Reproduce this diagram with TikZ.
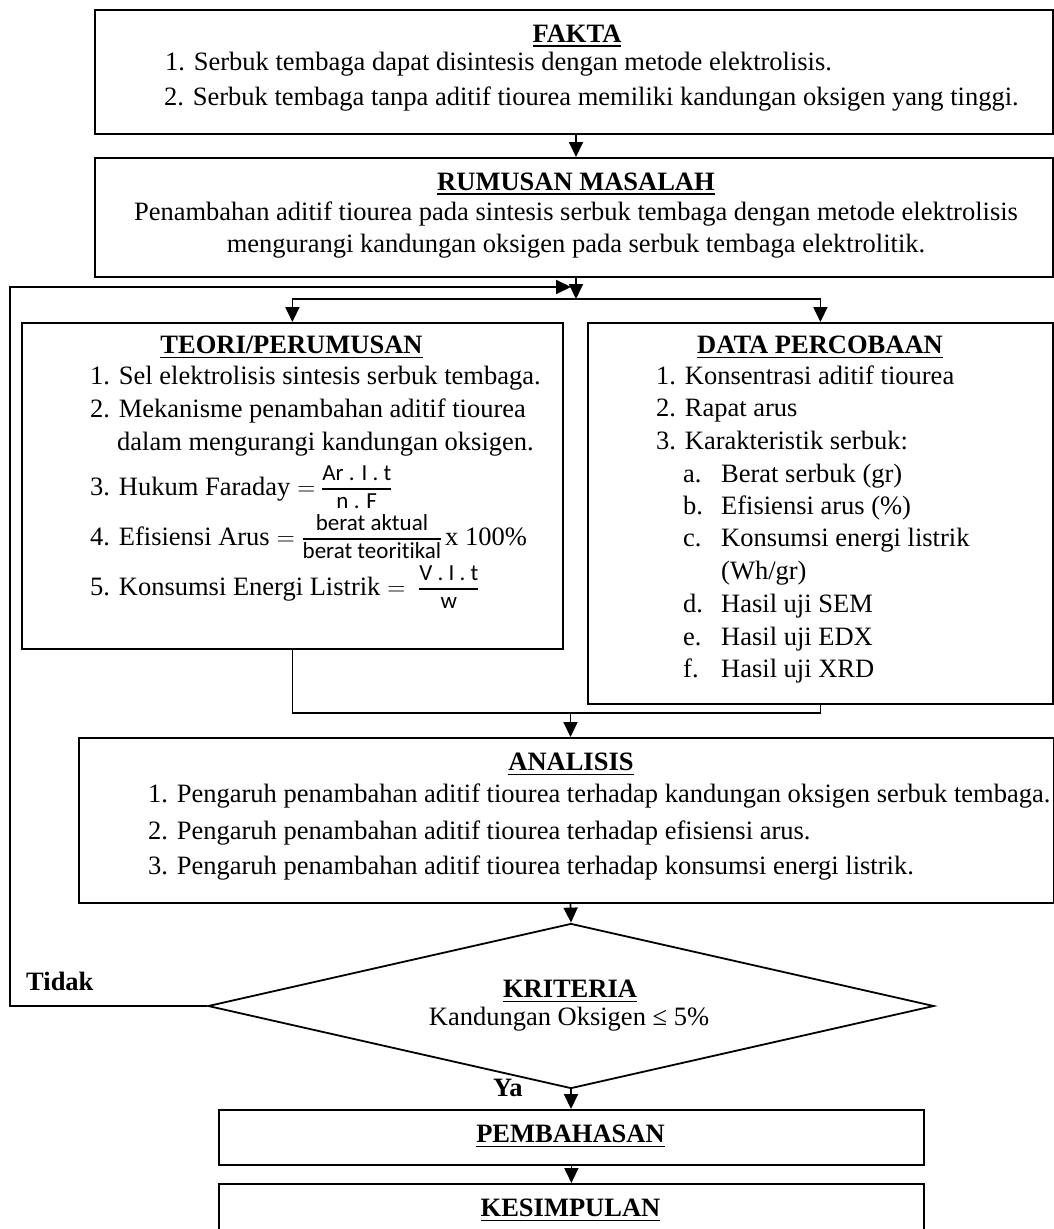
\documentclass[tikz,border=0pt]{standalone}
\usepackage{fontspec}
\setmainfont{Liberation Serif}
\newfontfamily\fracfont[Ligatures={NoCommon}]{Carlito}
\usetikzlibrary{arrows.meta,shapes.geometric}
\newdimen\fracw
\newcommand\myul[1]{\setbox0\hbox{#1}\rlap{\rule[-5pt]{\wd0}{1.8pt}}\box0}
\newcommand\fracx[2]{{%
 \setbox1\hbox{\fracfont\fontsize{23}{26}\selectfont #1}%
 \setbox2\hbox{\fracfont\fontsize{23}{26}\selectfont #2}%
 \fracw=\wd1 \ifdim\wd2>\fracw \fracw=\wd2 \fi
 \hbox to \fracw{%
   \rlap{\raisebox{5.8pt}{\rule{\fracw}{1.5pt}}}%
   \rlap{\hbox to \fracw{\hss\raisebox{14.5pt}{\box1}\hss}}%
   \hbox to \fracw{\hss\raisebox{-13pt}{\box2}\hss}}}}
\newcommand\sublab[1]{\makebox[38pt][l]{#1}}
\begin{document}
\begin{tikzpicture}[x=1pt,y=-1pt,
  box/.style={draw, line width=1.8pt, inner sep=0pt, anchor=north west},
  txt/.style={inner sep=0pt, font=\fontsize{26.5}{32}\selectfont},
  ttl/.style={inner sep=0pt, font=\bfseries\fontsize{26.5}{32}\selectfont},
  arr/.style={-{Triangle[length=15pt,width=14pt]}, line width=1.8pt},
  ln/.style={line width=1.8pt}]
\useasboundingbox (0,0) rectangle (1054,1229);

% boxes
\node[box, minimum width=958pt, minimum height=124pt] (fakta) at (94,9) {};
\node[box, minimum width=958pt, minimum height=119pt] (rumusan) at (94,157) {};
\node[box, minimum width=541pt, minimum height=326pt] (teori) at (21,322) {};
\node[box, minimum width=465pt, minimum height=381pt] (data) at (587,322) {};
\node[box, minimum width=975pt, minimum height=165pt] (analisis) at (78,737) {};
\node[draw, diamond, line width=1.8pt, inner sep=0pt, aspect=4.4,
      minimum width=726pt, minimum height=165pt] (krit) at (571,1006) {};
\node[box, minimum width=705pt, minimum height=55pt] (pemb) at (218,1109) {};
\node[box, minimum width=705pt, minimum height=80pt] (kes) at (218,1183) {};

% FAKTA
\node[ttl, anchor=mid] (tfakta) at (577,40) {\myul{FAKTA}};
\node[txt, anchor=mid west] (f1) at (165,68) {1. Serbuk tembaga dapat disintesis dengan metode elektrolisis.};
\node[txt, anchor=mid west] (f2) at (164,103) {2. Serbuk tembaga tanpa aditif tiourea memiliki kandungan oksigen yang tinggi.};

% RUMUSAN
\node[ttl, anchor=mid] (trum) at (576,188) {\myul{RUMUSAN MASALAH}};
\node[txt, anchor=mid] (r1) at (576,218) {Penambahan aditif tiourea pada sintesis serbuk tembaga dengan metode elektrolisis};
\node[txt, anchor=mid] (r2) at (576,250) {mengurangi kandungan oksigen pada serbuk tembaga elektrolitik.};

% TEORI
\node[ttl, anchor=mid] (tteori) at (291.5,351) {\myul{TEORI/PERUMUSAN}};
\node[txt, anchor=mid west] (t1) at (90,382) {1. Sel elektrolisis sintesis serbuk tembaga.};
\node[txt, anchor=mid west] (t2) at (90,415) {2. Mekanisme penambahan aditif tiourea};
\node[txt, anchor=mid west] (t2b) at (117,448) {dalam mengurangi kandungan oksigen.};
\node[txt, anchor=mid west] (t3) at (90,493) {3. Hukum Faraday\kern7pt$=$\kern7pt\fracx{Ar . I . t}{n . F}};
\node[txt, anchor=mid west] (t4) at (90,543) {4. Efisiensi Arus\kern7pt$=$\kern8pt\fracx{berat aktual}{berat teoritikal}\kern4pt x 100\%};
\node[txt, anchor=mid west] (t5) at (90,593) {5. Konsumsi Energi Listrik\kern7pt$=$\kern14pt\fracx{V . I . t}{w}};

% DATA
\node[ttl, anchor=mid] (tdata) at (820,351) {\myul{DATA PERCOBAAN}};
\node[txt, anchor=mid west] (d1) at (656,382) {1. Konsentrasi aditif tiourea};
\node[txt, anchor=mid west] (d2) at (656,414) {2. Rapat arus};
\node[txt, anchor=mid west] (d3) at (656,447) {3. Karakteristik serbuk:};
\node[txt, anchor=mid west] (da) at (683,480) {\sublab{a.}Berat serbuk (gr)};
\node[txt, anchor=mid west] (db) at (683,512) {\sublab{b.}Efisiensi arus (\%)};
\node[txt, anchor=mid west] (dc) at (683,544) {\sublab{c.}Konsumsi energi listrik};
\node[txt, anchor=mid west] (dc2) at (721,577) {(Wh/gr)};
\node[txt, anchor=mid west] (dd) at (683,610) {\sublab{d.}Hasil uji SEM};
\node[txt, anchor=mid west] (de) at (683,643) {\sublab{e.}Hasil uji EDX};
\node[txt, anchor=mid west] (df) at (683,675) {\sublab{f.}Hasil uji XRD};

% ANALISIS
\node[ttl, anchor=mid] (tanal) at (571,768) {\myul{ANALISIS}};
\node[txt, anchor=mid west] (a1) at (148,800) {1. Pengaruh penambahan aditif tiourea terhadap kandungan oksigen serbuk tembaga.};
\node[txt, anchor=mid west] (a2) at (148,837) {2. Pengaruh penambahan aditif tiourea terhadap efisiensi arus.};
\node[txt, anchor=mid west] (a3) at (148,872) {3. Pengaruh penambahan aditif tiourea terhadap konsumsi energi listrik.};

% KRITERIA
\node[ttl, anchor=mid] (tkrit) at (570,995) {\myul{KRITERIA}};
\node[txt, anchor=mid] (k1) at (569,1023) {Kandungan Oksigen ≤ 5\%};
\node[ttl, anchor=mid west] (tidak) at (26,988) {Tidak};
\node[ttl, anchor=mid west] (ya) at (493,1094) {Ya};

% PEMBAHASAN / KESIMPULAN
\node[ttl, anchor=mid] (tpemb) at (570.5,1140) {\myul{PEMBAHASAN}};
\node[ttl, anchor=mid] (tkes) at (570.5,1214) {\myul{KESIMPULAN}};

% helper coordinates
\coordinate (cx) at (576,0);
\coordinate (cx2) at (570.5,0);
\coordinate (split) at (576,299);
\coordinate (loopL) at (10,0);
\coordinate (loopY) at (0,287);
\coordinate (looptip) at (571,287);
\coordinate (mergeY) at (0,713);

% connectors
\draw[arr] (fakta.south -| cx) -- (rumusan.north -| cx);
\draw[arr] (rumusan.south -| cx) -- (split);
\draw[arr] (split) -| (teori.north);
\draw[arr] (split) -| (data.north);
\draw[arr] (krit.west) -- (krit.west -| loopL) -- (loopL |- loopY) -- (looptip);
\draw[ln] (teori.south) -- (teori.south |- mergeY) -- (data.south |- mergeY) -- (data.south);
\draw[arr] (cx2 |- mergeY) -- (analisis.north -| cx2);
\draw[arr] (analisis.south -| cx2) -- (krit.north);
\draw[arr] (krit.south) -- (pemb.north -| krit.south);
\draw[arr] (pemb.south) -- (kes.north);
\end{tikzpicture}
\end{document}
